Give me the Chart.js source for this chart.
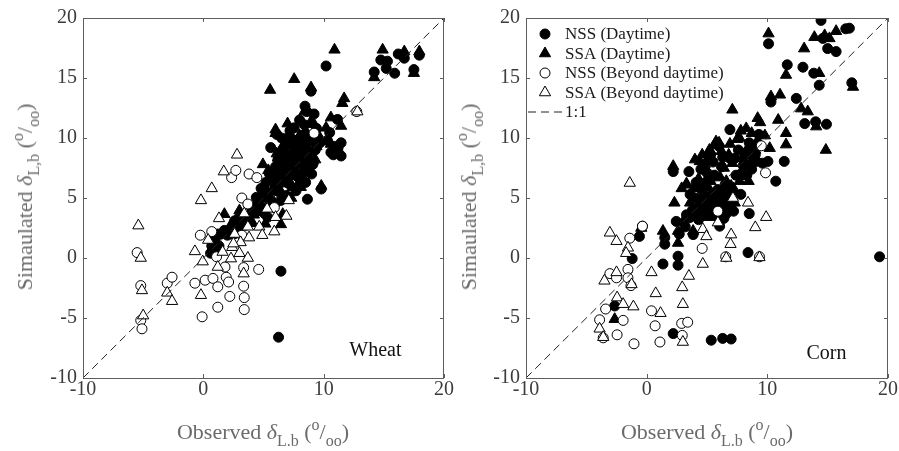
<!DOCTYPE html>
<html>
<head>
<meta charset="utf-8">
<script src="https://cdn.jsdelivr.net/npm/chart.js@4.4.0/dist/chart.umd.min.js"></script>
<style>
  body { margin: 0; background: #fff; width: 899px; height: 451px; overflow: hidden; position: relative;
         font-family: "Liberation Serif", "Times New Roman", serif; }
  .panel { position: absolute; top: 0; }
  .axis-title { position: absolute; font-size: 22px; line-height: 22px; color: #6b6b6b; white-space: nowrap; }
  .axis-title sub, .axis-title sup { font-size: 16px; position: relative; vertical-align: baseline; line-height: 0; }
  .axis-title sub { top: 7px; }
  .axis-title sup { top: -9px; }
  .xt { top: 421px; transform: translateX(-50%); }
  .yt { top: 197px; transform: translate(-50%, -50%) rotate(-90deg); }
</style>
</head>
<body>
<div class="panel" style="left:0"><canvas id="wheatChart" width="460" height="451"></canvas></div>
<div class="panel" style="left:460px"><canvas id="cornChart" width="439" height="451"></canvas></div>

<div class="axis-title yt" style="left:25px">Simaulated <i>δ</i><sub>L,b</sub> (<sup>o</sup>/<sub>oo</sub>)</div>
<div class="axis-title xt" style="left:263px">Observed <i>δ</i><sub>L.b</sub> (<sup>o</sup>/<sub>oo</sub>)</div>
<div class="axis-title yt" style="left:469px">Simaulated <i>δ</i><sub>L,b</sub> (<sup>o</sup>/<sub>oo</sub>)</div>
<div class="axis-title xt" style="left:707px">Observed <i>δ</i><sub>L.b</sub> (<sup>o</sup>/<sub>oo</sub>)</div>

<script>
// observed vs simulated leaf-water delta, [observed, simulated]
const wheatNssDay = [
  [6.45,-1.1],[6.25,-6.6],[0.85,0.45],[0.9,1.2],[0.6,0.4],[0.7,1.0],[1.0,1.6],[1.2,2.0],
  [1.75,2.3],[2.3,2.0],[2.6,3.1],[3.0,3.4],[4.0,4.2],[4.4,5.05],[5.1,3.7],[5.6,9.2],
  [5.35,3.4],[6.0,5.9],[6.45,4.8],[6.1,10.3],[6.8,6.7],[6.9,9.75],[7.55,10.85],[7.95,8.5],
  [8.25,7.0],[8.4,11.1],[8.65,4.9],[8.45,12.65],[8.95,13.9],[9.2,12.0],[9.8,5.75],[9.7,9.6],
  [10.2,16.0],[10.5,10.45],[10.6,8.8],[10.9,9.3],[11.15,11.55],[11.45,8.5],[11.45,9.6],
  [14.2,15.5],[14.75,16.5],[15.2,15.8],[15.3,16.4],[15.9,15.4],[16.2,17.0],[16.7,16.65],
  [17.5,15.7],[17.95,16.9],
  [5.0,5.5],[5.2,6.3],[5.5,7.0],[5.8,6.5],[6.0,7.6],[6.2,8.2],[6.4,7.0],[6.6,9.0],[6.8,7.9],
  [7.0,8.6],[7.1,6.2],[7.3,9.4],[7.5,7.4],[7.6,8.9],[7.8,6.8],[7.9,9.8],[8.1,8.0],[8.2,10.2],
  [8.4,9.1],[8.5,6.3],[8.7,7.6],[8.8,8.8],[9.0,7.0],[9.3,9.0],[4.6,4.8],[4.8,5.8],[5.6,4.6],
  [6.3,5.5],[6.9,5.2],[7.7,5.6],[3.9,3.6],[4.3,3.9],[3.5,2.8],[2.9,2.5],[2.0,1.9],[1.3,1.0],
  [6.5,10.0],[7.2,10.6],[8.0,11.5],[8.6,12.2],[9.4,10.8],[10.3,9.8],[10.8,8.6],[11.2,9.2],
  [6.2,6.0],[6.6,6.4],[7.0,7.0],[7.4,7.9],[7.9,8.9],[8.3,9.6],[8.9,10.0],[7.4,9.9],[6.7,8.3],
  [5.9,7.2],[5.3,5.0],[4.9,4.2],[8.0,6.0],[8.6,8.2],[9.1,7.8],[7.0,10.0]
];
const wheatSsaDay = [
  [5.55,14.0],[7.55,14.9],[8.95,14.2],[10.9,17.35],[14.9,17.35],[14.2,15.05],[16.7,17.2],
  [17.5,15.4],[17.95,17.2],[11.7,13.3],[11.55,12.9],[10.6,11.7],[10.2,10.85],[11.45,11.0],
  [6.0,10.7],[4.95,7.8],[6.2,8.35],[1.75,3.65],[3.0,3.95],[5.15,2.85],[6.45,2.8],[6.6,3.65],
  [0.9,1.45],[2.3,1.9],[8.4,12.2],[9.2,11.15],[9.8,6.0],[8.1,5.9],[9.1,8.1],
  [5.1,6.0],[5.4,7.3],[5.7,5.5],[6.1,8.7],[6.3,6.6],[6.7,9.5],[6.9,7.3],[7.2,8.3],[7.4,5.9],
  [7.7,9.4],[7.9,7.8],[8.0,6.4],[8.3,8.6],[8.5,10.6],[8.8,7.2],[9.0,9.6],[9.3,8.2],[4.4,4.6],
  [4.7,3.8],[5.9,4.6],[6.6,4.9],[7.3,5.0],[3.6,3.3],[4.1,2.9],[2.7,3.0],[2.2,2.6],[1.5,1.9],
  [0.8,0.9],[6.0,10.4],[7.0,11.2],[9.7,10.0],[10.6,9.5],[11.3,8.9],
  [6.0,6.2],[6.5,7.6],[6.8,6.2],[7.5,6.8],[7.7,8.6],[8.2,7.3],[8.6,9.3],[9.4,9.3],[7.3,10.0],
  [5.4,5.3],[4.2,3.6],[3.2,2.6],[8.0,10.2],[8.9,11.3]
];
const wheatNssBeyond = [
  [-5.5,0.45],[-5.2,-2.3],[-5.2,-5.2],[-5.1,-5.9],[-3.0,-2.1],[-2.6,-1.6],[-0.7,-2.1],
  [-0.25,1.9],[-0.1,-4.9],[0.15,-1.85],[0.8,-1.7],[0.7,2.2],[1.2,-2.4],[1.2,-4.1],[1.9,-1.6],
  [2.1,-2.0],[2.2,-3.2],[2.35,6.7],[2.7,7.3],[3.2,5.0],[3.2,1.9],[3.35,-0.8],[3.35,-2.35],
  [3.4,-3.3],[3.4,-4.3],[3.8,7.0],[4.45,6.7],[4.6,-0.95],[5.9,4.2],[9.2,10.4],[12.75,12.2],
  [1.1,0.1],[1.8,-0.75],[3.7,4.5]
];
const wheatSsaBeyond = [
  [-5.4,2.7],[-5.2,0.0],[-5.1,-2.7],[-5.0,-4.8],[-3.0,-2.9],[-2.6,-3.6],[-0.2,4.8],[0.7,5.8],
  [1.7,7.2],[2.8,8.6],[-0.7,0.55],[-0.05,-0.3],[-0.2,-3.1],[0.4,1.5],[1.2,-0.75],[1.3,3.3],
  [1.6,0.5],[2.3,-0.05],[2.4,0.9],[2.6,2.0],[3.0,0.4],[3.1,1.3],[3.35,-1.3],[3.7,0.0],
  [3.7,2.6],[3.8,1.7],[4.65,2.6],[4.9,1.9],[5.3,4.1],[5.9,2.2],[6.0,3.4],[6.9,3.5],[7.1,4.8],
  [12.8,12.2],[3.4,3.7],[2.5,1.2]
];

const cornNssDay = [
  [14.45,19.8],[10.1,17.85],[11.65,16.1],[12.95,15.9],[13.85,15.4],[14.3,14.4],[14.6,18.3],
  [15.0,17.45],[15.7,17.2],[16.5,19.1],[16.8,19.15],[17.0,14.6],[19.3,0.1],[10.3,13.0],
  [12.4,13.3],[13.1,11.2],[14.0,11.35],[14.9,11.15],[11.4,8.05],[10.7,6.4],[10.05,8.05],
  [9.1,8.05],[6.9,10.7],[8.5,3.7],[8.4,0.45],[2.2,7.2],[-0.6,1.8],[-0.35,2.65],[-1.2,-0.05],
  [-2.65,-4.0],[1.35,-0.5],[1.5,1.15],[1.5,1.7],[2.45,3.05],[2.6,0.15],[2.6,-0.6],[2.2,-6.3],
  [5.35,-6.85],[6.3,-6.7],[7.0,-6.75],[3.3,3.6],[3.85,1.95],[3.55,3.35],[6.05,2.65],
  [3.8,4.0],[4.0,5.0],[4.2,3.4],[4.4,4.4],[4.6,5.6],[4.7,3.6],[4.9,4.8],[5.0,6.4],[5.2,3.9],
  [5.3,5.2],[5.5,4.3],[5.6,6.9],[5.8,3.5],[5.9,5.7],[6.1,4.6],[6.2,7.6],[6.4,3.3],[6.5,6.1],
  [6.7,4.8],[6.9,8.3],[7.0,5.5],[7.2,3.9],[7.4,6.9],[7.6,9.0],[7.8,5.3],[8.0,7.7],[8.2,8.6],
  [8.5,9.6],[8.7,7.4],[9.0,8.6],[9.3,10.3],[9.6,7.9],[3.2,2.6],[2.7,2.0],[3.5,7.2],[4.5,7.4],
  [5.3,8.6],[6.0,9.3],
  [4.3,3.2],[4.8,4.2],[5.1,4.9],[5.4,3.6],[5.7,4.9],[6.0,4.0],[6.3,5.4],[6.6,3.7],[6.8,5.9],
  [7.1,4.6],[4.5,5.9],[5.0,7.1],[5.5,8.0],[6.3,8.4],[7.3,8.3],[7.8,7.0],[8.3,6.9],[8.8,9.2],
  [4.1,6.3],[3.6,5.3]
];
const cornSsaDay = [
  [10.1,18.7],[11.55,15.25],[13.05,17.45],[13.9,18.4],[14.75,18.55],[15.15,18.3],[15.7,18.9],
  [14.3,15.4],[17.1,14.25],[14.85,9.0],[10.3,13.45],[11.05,13.6],[7.1,12.35],[9.2,11.65],
  [10.9,11.5],[11.55,10.4],[11.55,9.45],[12.8,12.45],[13.35,12.2],[14.05,10.95],[8.25,10.8],
  [7.7,10.0],[5.75,9.7],[5.2,9.0],[4.4,8.05],[2.2,7.65],[3.3,6.1],[2.3,4.6],[1.35,2.25],
  [2.6,2.25],[3.85,2.25],[2.6,1.25],[-0.45,2.5],[-2.65,-5.1],[10.2,9.15],[8.45,6.4],
  [3.6,4.6],[3.9,5.8],[4.1,3.7],[4.3,6.6],[4.5,4.9],[4.8,7.8],[4.9,3.4],[5.1,5.9],[5.3,8.9],
  [5.4,4.5],[5.7,6.8],[5.9,3.9],[6.0,9.6],[6.2,5.3],[6.4,7.5],[6.6,4.2],[6.8,8.6],[7.0,6.0],
  [7.1,7.9],[7.3,4.6],[7.5,9.9],[7.7,6.4],[7.9,8.3],[8.1,6.8],[8.4,9.2],[8.7,10.4],[9.0,9.0],
  [9.4,11.3],[9.8,10.2],[3.0,3.0],[2.9,5.8],[3.3,6.2],[4.0,8.2],[5.6,9.4],
  [4.4,3.9],[4.7,5.3],[5.0,4.4],[5.3,6.4],[5.6,3.4],[5.8,5.1],[6.1,6.7],[6.3,4.0],[6.6,6.4],
  [6.9,4.6],[7.2,5.8],[3.8,3.4],[4.6,8.6],[5.0,8.1],[6.2,8.9],[6.9,9.5],[7.8,10.6],[8.6,8.0],
  [9.2,9.8]
];
const cornNssBeyond = [
  [-1.4,1.65],[-3.05,-1.3],[-2.5,-1.65],[-1.55,-0.95],[-1.55,-1.65],[-1.3,-2.3],[-3.4,-4.25],
  [-3.9,-5.15],[-3.6,-6.65],[-2.45,-6.4],[-1.95,-5.2],[-1.05,-7.15],[0.4,-4.4],[0.7,-5.65],
  [1.1,-7.0],[2.9,-5.45],[3.4,-5.35],[2.95,-6.45],[-0.35,2.65],[4.6,0.8],[6.55,0.1],
  [9.35,0.1],[9.85,7.1],[9.5,9.35],[5.9,3.9]
];
const cornSsaBeyond = [
  [-1.4,6.25],[-3.05,2.1],[-2.5,1.4],[-1.55,0.85],[-1.7,0.4],[-2.5,-1.2],[-3.5,-1.9],
  [-1.25,-2.2],[-2.45,-3.3],[-1.95,-3.85],[-1.1,-4.05],[-3.9,-5.9],[-3.6,-6.6],[0.4,-1.2],
  [0.75,-2.95],[1.15,-4.6],[2.95,-2.45],[3.0,-3.85],[3.0,-7.0],[3.5,-1.5],[4.65,-0.5],
  [4.65,2.4],[4.95,1.8],[5.9,2.95],[6.6,0.0],[6.95,1.15],[7.0,1.95],[8.4,4.6],[9.0,2.55],
  [9.35,0.05],[9.9,3.4],[7.15,5.0]
];

const oneToOne = [-10, 20];
const xTicks = { min: -10, max: 20, step: 10 };
const yTicks = { min: -10, max: 20, step: 5 };

Chart.defaults.font.family = '"Liberation Serif", "Times New Roman", serif';

const circleRadius = 5;
const triangleRadius = 6.5;

function toPoints(pairs) {
  return pairs.map(p => ({ x: p[0], y: p[1] }));
}

function drawMarker(ctx, style, x, y, r, filled) {
  ctx.beginPath();
  if (style === 'triangle') {
    ctx.moveTo(x, y - r);
    ctx.lineTo(x + 0.866 * r, y + 0.5 * r);
    ctx.lineTo(x - 0.866 * r, y + 0.5 * r);
    ctx.closePath();
  } else {
    ctx.arc(x, y, r, 0, Math.PI * 2);
  }
  ctx.fillStyle = filled ? '#000' : '#fff';
  ctx.fill();
  ctx.lineWidth = 1;
  ctx.strokeStyle = '#000';
  ctx.stroke();
}

// box around the plot area, inward ticks and the crop name
const framePlugin = {
  id: 'frame',
  afterDatasetsDraw(chart, args, opts) {
    const { ctx, chartArea: a, scales } = chart;
    ctx.save();
    ctx.strokeStyle = '#5e5e5e';
    ctx.lineWidth = 1;
    ctx.strokeRect(a.left + 0.5, a.top + 0.5, a.right - a.left - 1, a.bottom - a.top);
    ctx.beginPath();
    scales.x.ticks.forEach(t => {
      const px = Math.round(scales.x.getPixelForValue(t.value)) + 0.5;
      ctx.moveTo(px, a.bottom); ctx.lineTo(px, a.bottom - 4);
      ctx.moveTo(px, a.top); ctx.lineTo(px, a.top + 4);
    });
    scales.y.ticks.forEach(t => {
      const py = Math.round(scales.y.getPixelForValue(t.value)) + 0.5;
      ctx.moveTo(a.left, py); ctx.lineTo(a.left + 4, py);
      ctx.moveTo(a.right, py); ctx.lineTo(a.right - 4, py);
    });
    ctx.stroke();
    if (opts.label) {
      ctx.fillStyle = '#111';
      ctx.font = '20px "Liberation Serif", serif';
      ctx.textAlign = 'center';
      ctx.textBaseline = 'middle';
      ctx.fillText(opts.label.text, scales.x.getPixelForValue(opts.label.x), scales.y.getPixelForValue(opts.label.y));
    }
    ctx.restore();
  }
};

// legend box drawn inside the top-left corner of the plot area
const insideLegend = {
  id: 'insideLegend',
  afterDraw(chart, args, opts) {
    if (!opts.show) return;
    const { ctx, chartArea: a } = chart;
    ctx.save();
    ctx.font = '17px "Liberation Serif", serif';
    ctx.textBaseline = 'middle';
    ctx.textAlign = 'left';
    chart.data.datasets.forEach((ds, i) => {
      const y = a.top + 16 + i * 19.5;
      const mx = a.left + 19;
      if (ds.showLine) {
        ctx.strokeStyle = '#222';
        ctx.lineWidth = 1;
        ctx.setLineDash([8, 5]);
        ctx.beginPath();
        ctx.moveTo(a.left + 2, y); ctx.lineTo(a.left + 36, y);
        ctx.stroke();
        ctx.setLineDash([]);
      } else {
        drawMarker(ctx, ds.pointStyle, mx, y, ds.pointRadius, ds.pointBackgroundColor === '#000');
      }
      ctx.fillStyle = '#1a1a1a';
      ctx.fillText(ds.label, a.left + 39, y + 1);
    });
    ctx.restore();
  }
};

function scatterSet(label, pairs, style, filled, order) {
  return {
    label: label,
    data: toPoints(pairs),
    pointStyle: style,
    pointRadius: style === 'triangle' ? triangleRadius : circleRadius,
    pointBackgroundColor: filled ? '#000' : '#fff',
    pointBorderColor: '#000',
    pointBorderWidth: 1,
    showLine: false,
    order: order
  };
}

function buildChart(canvasId, sets, yAxisWidth, rightPad, label, withLegend) {
  const tickFont = { size: 20 };
  const ctx = document.getElementById(canvasId).getContext('2d');
  return new Chart(ctx, {
    type: 'scatter',
    data: {
      datasets: [
        scatterSet('NSS (Daytime)', sets[0], 'circle', true, 4),
        scatterSet('SSA (Daytime)', sets[1], 'triangle', true, 3),
        scatterSet('NSS (Beyond daytime)', sets[2], 'circle', false, 2),
        scatterSet('SSA (Beyond daytime)', sets[3], 'triangle', false, 1),
        {
          label: '1:1',
          data: oneToOne.map(v => ({ x: v, y: v })),
          showLine: true,
          borderColor: '#222',
          borderWidth: 1,
          borderDash: [8, 5],
          pointRadius: 0,
          order: 0
        }
      ]
    },
    options: {
      responsive: false,
      animation: false,
      layout: { padding: { top: 16, right: rightPad, left: 0, bottom: 0 } },
      scales: {
        x: {
          type: 'linear',
          min: xTicks.min, max: xTicks.max,
          ticks: { stepSize: xTicks.step, padding: 0, color: '#3c3c3c', font: tickFont },
          grid: { display: false, drawTicks: false },
          border: { display: false },
          afterFit(scale) { scale.height = 73; }
        },
        y: {
          type: 'linear',
          min: yTicks.min, max: yTicks.max,
          ticks: { stepSize: yTicks.step, padding: 6, color: '#3c3c3c', font: tickFont },
          grid: { display: false, drawTicks: false },
          border: { display: false },
          afterFit(scale) { scale.width = yAxisWidth; }
        }
      },
      plugins: {
        legend: { display: false },
        tooltip: { enabled: false },
        frame: { label: label },
        insideLegend: { show: withLegend }
      }
    },
    plugins: [framePlugin, insideLegend]
  });
}

buildChart('wheatChart', [wheatNssDay, wheatSsaDay, wheatNssBeyond, wheatSsaBeyond], 83, 16,
  { text: 'Wheat', x: 14.3, y: -7.7 }, false);
buildChart('cornChart', [cornNssDay, cornSsaDay, cornNssBeyond, cornSsaBeyond], 66, 11,
  { text: 'Corn', x: 14.9, y: -8.0 }, true);
</script>
</body>
</html>
